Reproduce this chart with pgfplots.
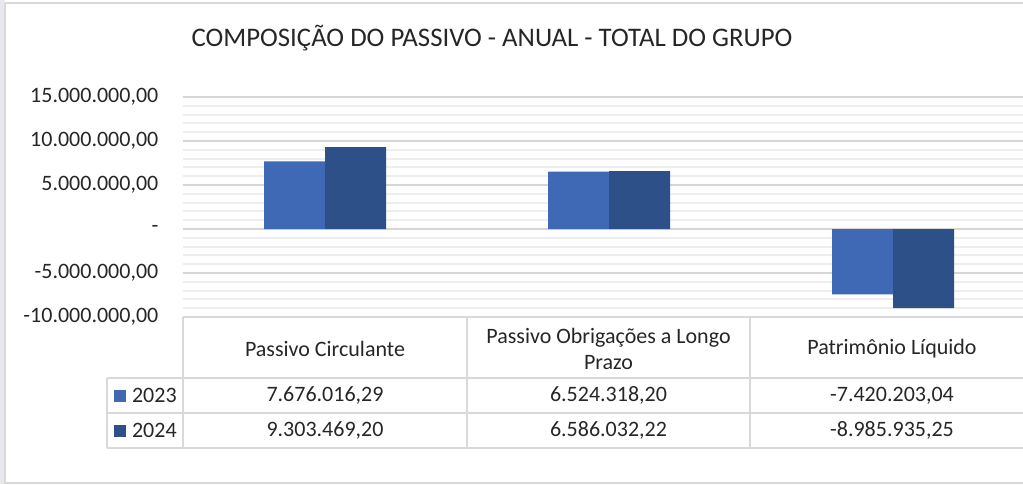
\documentclass[border=0pt]{standalone}
\usepackage{pgfplots}
\pgfplotsset{compat=1.18}
\usepackage{fontspec}
\setmainfont{Carlito}
\definecolor{c23}{HTML}{3F69B5}
\definecolor{c24}{HTML}{2E5089}
\definecolor{gridmaj}{HTML}{D6D6D6}
\definecolor{gridmin}{HTML}{EEEEEE}
\definecolor{tline}{HTML}{D9D9D9}
\definecolor{txt}{HTML}{262626}
\definecolor{side}{HTML}{E7E7EE}
\begin{document}
\begin{tikzpicture}
\path[use as bounding box] (0,0) rectangle (511.5pt,242pt);
\begin{scope}[x=0.5pt,y=-0.5pt,shift={(0pt,242pt)}]
  \fill[side] (0,0) rectangle (5,484);
  \draw[tline, line width=0.75pt] (5,3) -- (1040,3);
  \draw[tline, line width=0.75pt] (5,3) -- (5,483) -- (1040,483);
\end{scope}
\begin{axis}[
  at={(91.5pt,83.5pt)}, anchor=south west,
  scale only axis, width=426pt, height=110pt,
  xmin=-0.5, xmax=2.5,
  ymin=-10000000, ymax=15000000,
  ybar=0pt, bar width=30.5pt,
  axis line style={draw=none},
  xtick=\empty,
  ytick={-10000000,-5000000,0,5000000,10000000,15000000},
  yticklabels={{-10.000.000,00},{-5.000.000,00},{-},{5.000.000,00},{10.000.000,00},{15.000.000,00}},
  scaled y ticks=false,
  minor y tick num=4,
  ymajorgrids, yminorgrids,
  major grid style={gridmaj, line width=1pt},
  minor grid style={gridmin, line width=1pt},
  major tick length=0pt, minor tick length=0pt,
  yticklabel style={font=\fontsize{11}{13}\selectfont, text=txt, anchor=east, xshift=-8.8pt},
]
\addplot[fill=c23, draw=none] coordinates {(0,7676016.29) (1,6524318.20) (2,-7420203.04)};
\addplot[fill=c24, draw=none] coordinates {(0,9303469.20) (1,6586032.22) (2,-8985935.25)};
\end{axis}
\begin{scope}[x=0.5pt,y=-0.5pt,shift={(0pt,242pt)}]
  \node[font=\fontsize{13.4}{16}\selectfont, text=txt] at (492,38) {COMPOSIÇÃO DO PASSIVO - ANUAL - TOTAL DO GRUPO};
  % table lines
  \draw[tline, line width=1pt] (183,317) -- (1040,317);
  \draw[tline, line width=1pt] (107,378) -- (1040,378);
  \draw[tline, line width=1pt] (107,413) -- (1040,413);
  \draw[tline, line width=1pt] (107,448) -- (1040,448);
  \draw[tline, line width=1pt] (107,378) -- (107,448);
  \draw[tline, line width=1pt] (183,317) -- (183,448);
  \draw[tline, line width=1pt] (467,317) -- (467,448);
  \draw[tline, line width=1pt] (750,317) -- (750,448);
  % header
  \begin{scope}[every node/.style={font=\fontsize{11}{13}\selectfont, text=txt}]
  \node at (325,349) {Passivo Circulante};
  \node[align=center] at (608.5,349) {Passivo Obrigações a Longo\\Prazo};
  \node at (892,349) {Patrimônio Líquido};
  \fill[c23] (114,390) rectangle (126,402);
  \fill[c24] (114,425) rectangle (126,437);
  \node[anchor=west] at (125,395.5) {2023};
  \node[anchor=west] at (125,430.5) {2024};
  \node at (325,395.5) {7.676.016,29};
  \node at (608.5,395.5) {6.524.318,20};
  \node at (892,395.5) {-7.420.203,04};
  \node at (325,430.5) {9.303.469,20};
  \node at (608.5,430.5) {6.586.032,22};
  \node at (892,430.5) {-8.985.935,25};
  \end{scope}
\end{scope}
\end{tikzpicture}
\end{document}
